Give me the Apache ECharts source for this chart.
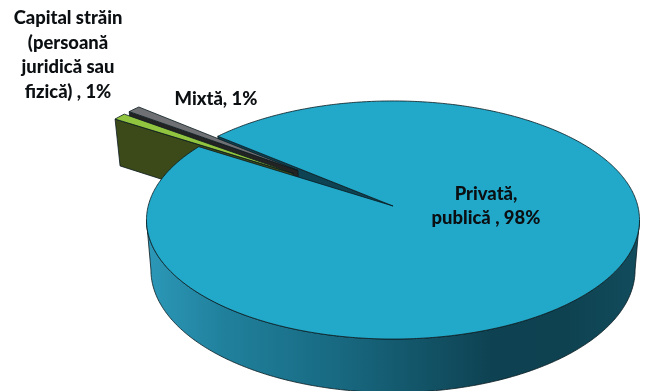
<!DOCTYPE html>
<html>
<head>
<meta charset="utf-8">
<style>html,body{margin:0;padding:0;background:#fff}#chart{width:647px;height:391px}</style>
<script src="https://cdn.jsdelivr.net/npm/echarts@6/dist/echarts.min.js"></script>
</head>
<body>
<div id="chart"></div>
<script>
// Ownership shares, in percent
const categories = ['Privată,\npublică ', 'Capital străin\n(persoană\njuridică sau\nfizică) ', 'Mixtă'];
const values = [98, 1, 1];

// Per-slice appearance and label anchors
const topColors = ['#22a8c9', '#92c53f', '#6e7073'];
const wallColors = ['#0e4353', '#3c4a19', '#232323'];
const explode = [0, 0.51, 0.51];
const radius = [1, 0.975, 0.975];
const labelAnchors = [[486, 206], [68, 55], [216, 99]];

// Perspective view of the unit circle that forms the top of the pie
const view = {
  cx: 393, cy: 206, a: 244.8, b: 117.4, k: 0.1176,
  startDeg: 219.7,
  bottomScale: 0.982, bottomYScale: 1.03, bottomYShift: 43.3
};

function project(c, s) {
  const w = 1 - view.k * s;
  return [view.cx + view.a * c / w, view.cy + view.b * s / w];
}
function lower(p) {
  return [view.cx + (p[0] - view.cx) * view.bottomScale, p[1] * view.bottomYScale + view.bottomYShift];
}
function rad(d) { return d * Math.PI / 180; }
function rimPoint(deg, off, r) {
  return project(off[0] + r * Math.cos(rad(deg)), off[1] + r * Math.sin(rad(deg)));
}

const total = values.reduce((a, b) => a + b, 0);

function sliceSpan(i) {
  let start = view.startDeg;
  for (let j = 0; j < i; j++) start += values[j] / total * 360;
  return [start, start + values[i] / total * 360];
}

const sideGradient = {
  type: 'linear', global: true, x: 147, y: 0, x2: 640, y2: 0,
  colorStops: [
    { offset: 0, color: '#2c98b8' },
    { offset: 0.16, color: '#20809c' },
    { offset: 0.38, color: '#186a82' },
    { offset: 0.7, color: '#0e4252' },
    { offset: 0.85, color: '#0e4251' },
    { offset: 1, color: '#124c5d' }
  ]
};

const edge = { stroke: '#0a1a20', lineWidth: 0.8 };

function poly(points, fill, z2) {
  return {
    type: 'polygon', z2: z2, silent: true,
    shape: { points: points },
    style: Object.assign({ fill: fill }, edge)
  };
}

function renderSlice(params, api) {
  const i = params.dataIndex;
  const span = sliceSpan(i);
  const mid = rad((span[0] + span[1]) / 2);
  const off = [explode[i] * Math.cos(mid), explode[i] * Math.sin(mid)];
  const apex = project(off[0], off[1]);
  const steps = Math.max(4, Math.round((span[1] - span[0]) * 1.5));
  const rim = [];
  for (let n = 0; n <= steps; n++) rim.push(rimPoint(span[0] + (span[1] - span[0]) * n / steps, off, radius[i]));

  const children = [];
  if (i === 0) {
    // Inner cut face seen through the gap, then the outer side and the top face
    const first = rim[0];
    children.push(poly([apex, first, lower(first), lower(apex)], wallColors[0], 1));
    const lim = Math.asin(view.k) * 180 / Math.PI;
    const upper = [];
    const under = [];
    for (let n = 0; n <= 240; n++) {
      const p = rimPoint(lim + (180 - 2 * lim) * n / 240, off, radius[i]);
      upper.push(p);
      under.unshift(lower(p));
    }
    children.push(poly(upper.concat(under), sideGradient, 10));
    children.push(poly([apex].concat(rim), topColors[0], 11));
  } else {
    // Exploded slices: the cut face on the lower-left edge, then the top face
    const base = i === 1 ? 4 : 2;
    const first = rim[0];
    children.push(poly([apex, first, lower(first), lower(apex)], wallColors[i], base));
    children.push(poly([apex].concat(rim), topColors[i], base + 1));
  }

  children.push({
    type: 'text', z2: 20, silent: true,
    style: {
      x: labelAnchors[i][0], y: labelAnchors[i][1],
      text: categories[i] + ', ' + api.value(0) + '%',
      align: 'center', verticalAlign: 'middle',
      font: '900 18.4px Lato', lineHeight: 24.5, fill: '#0b0f12'
    }
  });
  return { type: 'group', children: children };
}

const chart = echarts.init(document.getElementById('chart'), null, { renderer: 'canvas' });
chart.setOption({
  backgroundColor: '#ffffff',
  animation: false,
  series: [{
    type: 'custom',
    coordinateSystem: 'none',
    renderItem: renderSlice,
    data: values.map((v, i) => ({ name: categories[i], value: [v] }))
  }]
});
</script>
</body>
</html>
